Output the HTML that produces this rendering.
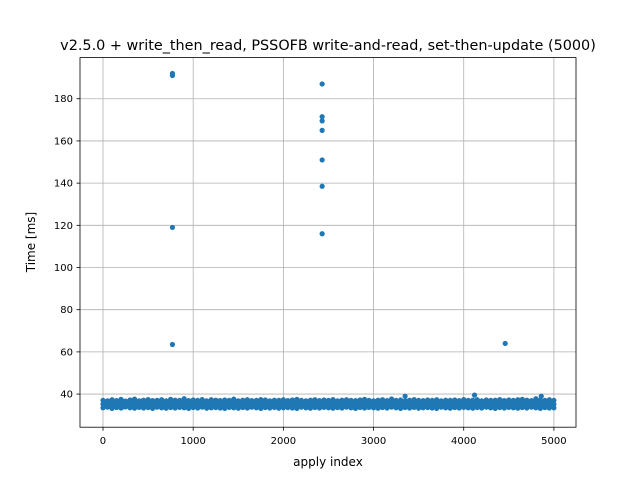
<!DOCTYPE html>
<html><head><meta charset="utf-8"><style>
body{margin:0;background:#fff}
svg text{font-family:"DejaVu Sans","Liberation Sans",sans-serif}
</style></head><body>
<svg id="chart" width="640" height="480" xmlns="http://www.w3.org/2000/svg">
<rect width="640" height="480" fill="#fff"/>
<g id="grid"></g>
<g id="marks"></g>
<rect x="80" y="57.6" width="496" height="369.6" fill="none" stroke="#000" stroke-width="0.8"/>
<g id="axes"></g>
<text x="328" y="50" text-anchor="middle" font-size="14.4">v2.5.0 + write_then_read, PSSOFB write-and-read, set-then-update (5000)</text>
<text x="328" y="466" text-anchor="middle" font-size="12">apply index</text>
<text transform="translate(35,242) rotate(-90)" text-anchor="middle" font-size="12">Time [ms]</text>
</svg>
<script>
const xTicks=[0,1000,2000,3000,4000,5000];
const yTicks=[40,60,80,100,120,140,160,180];
const bandLow=[33.5,33.8,33.2,33.6,33.4,33.9,33.5,33.3,33.7,33.4,33.6,33.2,33.8,33.5,33.3,33.6,33.4,33.7,33.5,33.2,33.6,33.4,33.8,33.3,33.5,33.6,33.4,33.2,33.7,33.5,33.3,33.6,33.4,33.8,33.5,33.2,33.6,33.4,33.7,33.3,33.5,33.6,33.4,33.2,33.8,33.5,33.3,33.6,33.4,33.7,33.5,33.3,33.6,33.4,33.8,33.5,33.2,33.6,33.4,33.7,33.5,33.3,33.6,33.4,33.8,33.5,33.2,33.6,33.4,33.7,33.3,33.5,33.6,33.4,33.2,33.8,33.5,33.3,33.6,33.4,33.7,33.5,33.3,33.6,33.4,33.8,33.5,33.2,33.6,33.4,33.7,33.5,33.3,33.6,33.4,33.8,33.5,33.2,33.6,33.4,33.5];
const bandMid=[35.2,35.0,35.4,35.1,35.3,34.9,35.2,35.5,35.0,35.3,35.1,35.4,35.0,35.2,35.5,35.1,35.3,35.0,35.2,35.4,35.1,35.3,35.0,35.5,35.2,35.1,35.3,35.4,35.0,35.2,35.5,35.1,35.3,35.0,35.2,35.4,35.1,35.3,35.0,35.5,35.2,35.1,35.3,35.4,35.0,35.2,35.5,35.1,35.3,35.0,35.2,35.5,35.1,35.3,35.0,35.2,35.4,35.1,35.3,35.0,35.2,35.5,35.1,35.3,35.0,35.2,35.4,35.1,35.3,35.0,35.5,35.2,35.1,35.3,35.4,35.0,35.2,35.5,35.1,35.3,35.0,35.2,35.5,35.1,35.3,35.0,35.2,35.4,35.1,35.3,35.0,35.2,35.5,35.1,35.3,35.0,35.2,35.4,35.1,35.3,35.2];
const bandHigh=[37.0,36.8,37.3,36.9,37.5,36.7,37.2,37.6,36.8,37.1,37.4,36.9,37.0,37.3,36.8,37.5,37.1,37.0,37.8,36.9,37.2,37.0,37.4,36.8,37.3,37.1,36.9,37.2,37.0,37.6,36.8,37.1,37.3,36.9,37.0,37.4,37.2,36.8,37.1,37.0,37.3,36.9,37.2,37.5,37.0,36.8,37.1,37.3,36.9,37.2,37.0,37.4,36.8,37.1,37.3,37.0,36.9,37.2,37.5,37.0,36.8,37.1,37.3,36.9,37.7,37.0,37.2,36.8,37.1,37.4,37.0,36.9,37.2,37.0,37.3,36.8,37.1,37.0,37.2,36.9,37.4,37.0,37.1,37.3,36.8,37.2,37.0,37.1,37.4,36.9,37.2,37.0,37.3,37.5,37.1,36.9,37.8,37.2,37.0,37.3,37.0];
const bandFillLow=[34.2,34.4,34.1,34.3,34.0,34.4,34.2,34.3,34.1,34.4,34.2,34.0,34.3,34.2,34.4,34.1,34.3,34.2,34.0,34.4,34.2,34.3,34.1,34.2,34.4,34.0,34.3,34.2,34.1,34.4,34.2,34.3,34.0,34.2,34.4,34.1,34.3,34.2,34.0,34.4,34.2,34.3,34.1,34.2,34.4,34.0,34.3,34.2,34.1,34.4,34.2,34.3,34.0,34.2,34.4,34.1,34.3,34.2,34.0,34.4,34.2,34.3,34.1,34.2,34.4,34.0,34.3,34.2,34.1,34.4,34.2,34.3,34.0,34.2,34.4,34.1,34.3,34.2,34.0,34.4,34.2,34.3,34.1,34.2,34.4,34.0,34.3,34.2,34.1,34.4,34.2,34.3,34.0,34.2,34.4,34.1,34.3,34.2,34.0,34.4];
const bandFillHigh=[36.2,36.4,36.0,36.3,36.5,36.1,36.3,36.2,36.6,36.0,36.3,36.4,36.1,36.2,36.5,36.3,36.0,36.4,36.2,36.1,36.5,36.3,36.2,36.0,36.4,36.6,36.1,36.3,36.2,36.5,36.0,36.3,36.4,36.1,36.2,36.5,36.3,36.0,36.4,36.2,36.1,36.5,36.3,36.2,36.0,36.4,36.6,36.1,36.3,36.2,36.5,36.0,36.3,36.4,36.1,36.2,36.5,36.3,36.0,36.4,36.2,36.1,36.5,36.3,36.2,36.0,36.4,36.6,36.1,36.3,36.2,36.5,36.0,36.3,36.4,36.1,36.2,36.5,36.3,36.0,36.4,36.2,36.1,36.5,36.3,36.2,36.0,36.4,36.6,36.1,36.3,36.2,36.5,36.0,36.3,36.4,36.1,36.2,36.5,36.3];
const outX=[770,770,770,770,2430,2430,2430,2430,2430,2430,2430,4460,4120,3350,4860];
const outY=[192,191,119,63.5,187,171.5,169.5,165,151,138.5,116,64,39.5,39,39];
const X0=80,X1=576,Y0=427.2,Y1=57.6,xMin=-255,xMax=5245,yMin=24.3,yMax=199.5;
const sx=v=>X0+(v-xMin)/(xMax-xMin)*(X1-X0);
const sy=v=>Y0-(v-yMin)/(yMax-yMin)*(Y0-Y1);
const NS="http://www.w3.org/2000/svg";
const grid=document.getElementById('grid'),marks=document.getElementById('marks'),axes=document.getElementById('axes');
function mk(tag,at,p){const e=document.createElementNS(NS,tag);for(const k in at)e.setAttribute(k,at[k]);p.appendChild(e);return e;}
xTicks.forEach(t=>{const x=sx(t);
 const g=mk('line',{x1:x,x2:x,y1:Y1,y2:Y0,stroke:'#b0b0b0','stroke-width':0.8},grid);
 
 
 const k=mk('line',{x1:x,x2:x,y1:Y0,y2:Y0+3.5,stroke:'#000','stroke-width':0.8},axes);
 
 
 const l=mk('text',{x:x,y:Y0+17,'text-anchor':'middle','font-size':10},axes);l.textContent=t;
 
 });
yTicks.forEach(t=>{const y=sy(t);
 const g=mk('line',{x1:X0,x2:X1,y1:y,y2:y,stroke:'#b0b0b0','stroke-width':0.8},grid);
 
 
 const k=mk('line',{x1:X0-3.5,x2:X0,y1:y,y2:y,stroke:'#000','stroke-width':0.8},axes);
 
 
 const l=mk('text',{x:X0-7,y:y+3.5,'text-anchor':'end','font-size':10},axes);l.textContent=t;
 
 });
function dot(xv,yv){const c=mk('circle',{cx:sx(xv),cy:sy(yv),r:2.6,fill:'#1f77b4'},marks);
 
 }
[bandLow,bandMid,bandHigh].forEach(arr=>arr.forEach((v,i)=>dot(i*50,v)));
[bandFillLow,bandFillHigh].forEach(arr=>arr.forEach((v,i)=>dot(i*50+25,v)));
outX.forEach((x,i)=>dot(x,outY[i]));
</script>
</body></html>
